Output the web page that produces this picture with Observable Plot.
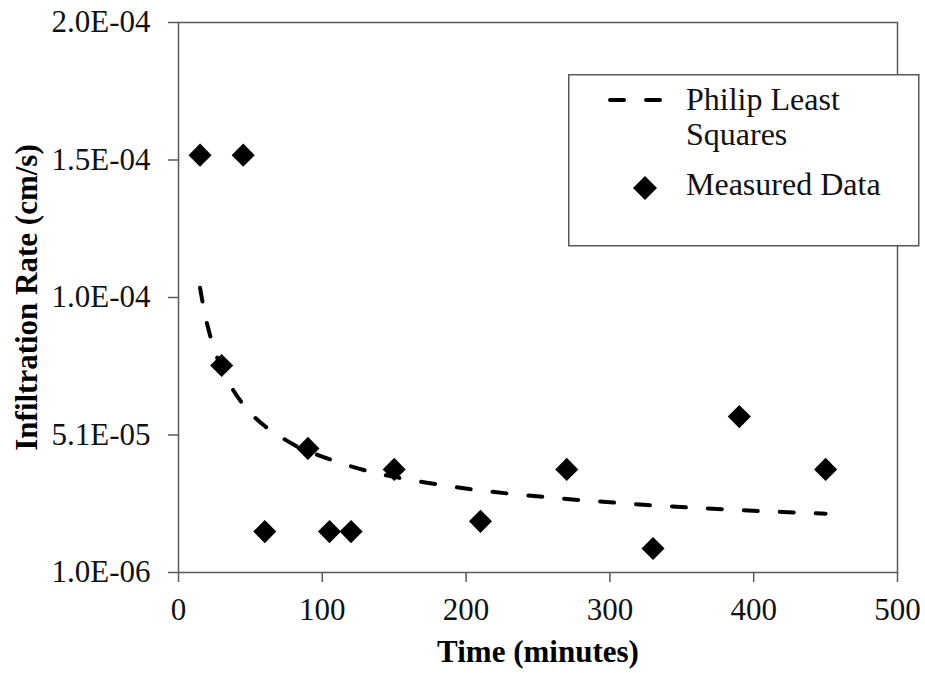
<!DOCTYPE html>
<html>
<head>
<meta charset="utf-8">
<script src="https://cdn.jsdelivr.net/npm/d3@7"></script>
<script src="https://cdn.jsdelivr.net/npm/@observablehq/plot@0.6"></script>
<style>
  body { margin: 0; background: #fff; }
  #wrap { position: relative; width: 925px; height: 673px; font-family: "Liberation Serif", "Times New Roman", serif; }
  #legend { position: absolute; left: 568px; top: 74px; }
</style>
</head>
<body>
<div id="wrap"></div>
<script>
// Measured data (time in minutes, infiltration rate in cm/s)
const measuredTime = [15, 30, 45, 60, 90, 105, 120, 150, 210, 270, 330, 390, 450];
const measuredRate = [1.52e-4, 7.59e-5, 1.52e-4, 1.58e-5, 4.59e-5, 1.58e-5, 1.58e-5, 3.83e-5, 1.95e-5, 3.83e-5, 9.7e-6, 5.74e-5, 3.83e-5];

// Philip least-squares curve
const fitTime = [15, 20, 30, 45, 60, 75, 90, 120, 150, 180, 210, 240, 270, 300, 330, 360, 390, 420, 450];
const fitRate = [1.04e-4, 9.07e-5, 7.48e-5, 6.18e-5, 5.40e-5, 4.88e-5, 4.49e-5, 3.94e-5, 3.56e-5, 3.29e-5, 3.07e-5, 2.90e-5, 2.76e-5, 2.64e-5, 2.53e-5, 2.44e-5, 2.36e-5, 2.29e-5, 2.23e-5];

// Axes
const xTicks = [0, 100, 200, 300, 400, 500];
const yTicks = [1.0e-6, 5.075e-5, 1.005e-4, 1.5025e-4, 2.0e-4];
const yTickLabels = ["1.0E-06", "5.1E-05", "1.0E-04", "1.5E-04", "2.0E-04"];
const xTitle = "Time (minutes)";
const yTitle = "Infiltration Rate (cm/s)";
const seriesNames = ["Philip Least", "Squares", "Measured Data"];

const measured = measuredTime.map((t, i) => ({t, r: measuredRate[i]}));
const fit = fitTime.map((t, i) => ({t, r: fitRate[i]}));

const FONT = '"Liberation Serif", "Times New Roman", serif';
const AXIS = "#595959";

const chart = Plot.plot({
  width: 925,
  height: 673,
  marginLeft: 178,
  marginRight: 28,
  marginTop: 22,
  marginBottom: 101,
  style: {fontFamily: FONT, fontSize: "31px", color: "#000", background: "#fff", overflow: "visible"},
  x: {domain: [0, 500]},
  y: {domain: [1e-6, 2e-4]},
  marks: [
    Plot.frame({stroke: AXIS, strokeWidth: 1.5}),
    Plot.axisX({ticks: xTicks, tickSize: 10, tickPadding: 15, stroke: AXIS, strokeWidth: 1.5, fill: "#111", label: null, tickFormat: d => String(d)}),
    Plot.axisY({ticks: yTicks, tickSize: 10, tickPadding: 18, stroke: AXIS, strokeWidth: 1.5, fill: "#111", label: null,
      tickFormat: d => yTickLabels[yTicks.indexOf(d)]}),
    Plot.line(fit, {x: "t", y: "r", stroke: "#000", strokeWidth: 4, strokeDasharray: "14,22", strokeLinecap: "round", curve: "natural"}),
    Plot.dot(measured, {x: "t", y: "r", symbol: "diamond2", r: 10.4, fill: "#000", stroke: "none"}),
    Plot.text([xTitle], {text: d => d, frameAnchor: "bottom", dy: 80, fontWeight: "bold", fontSize: 31, fill: "#000", lineAnchor: "middle", textAnchor: "middle"}),
    Plot.text([yTitle], {text: d => d, frameAnchor: "left", rotate: -90, dx: -151, dy: 0, fontWeight: "bold", fontSize: 31, fill: "#000", lineAnchor: "middle", textAnchor: "middle"})
  ]
});

const wrap = document.getElementById("wrap");
wrap.appendChild(chart);

// Legend box (overlay, above the plot)
const ns = "http://www.w3.org/2000/svg";
const leg = document.createElementNS(ns, "svg");
leg.setAttribute("id", "legend");
leg.setAttribute("width", 352);
leg.setAttribute("height", 173);
leg.innerHTML = `
  <rect x="0.75" y="0.75" width="350" height="171" fill="#fff" stroke="${AXIS}" stroke-width="1.5"/>
  <line x1="42" y1="26" x2="95" y2="26" stroke="#000" stroke-width="4" stroke-dasharray="14,22" stroke-linecap="round"/>
  <path d="M77,102 L89,114 L77,126 L65,114 Z" fill="#000"/>
  <text x="118" y="36" font-family='${FONT}' font-size="32" fill="#111">${seriesNames[0]}</text>
  <text x="118" y="71" font-family='${FONT}' font-size="32" fill="#111">${seriesNames[1]}</text>
  <text x="118" y="121" font-family='${FONT}' font-size="32" fill="#111">${seriesNames[2]}</text>
`;
wrap.appendChild(leg);
</script>
</body>
</html>
